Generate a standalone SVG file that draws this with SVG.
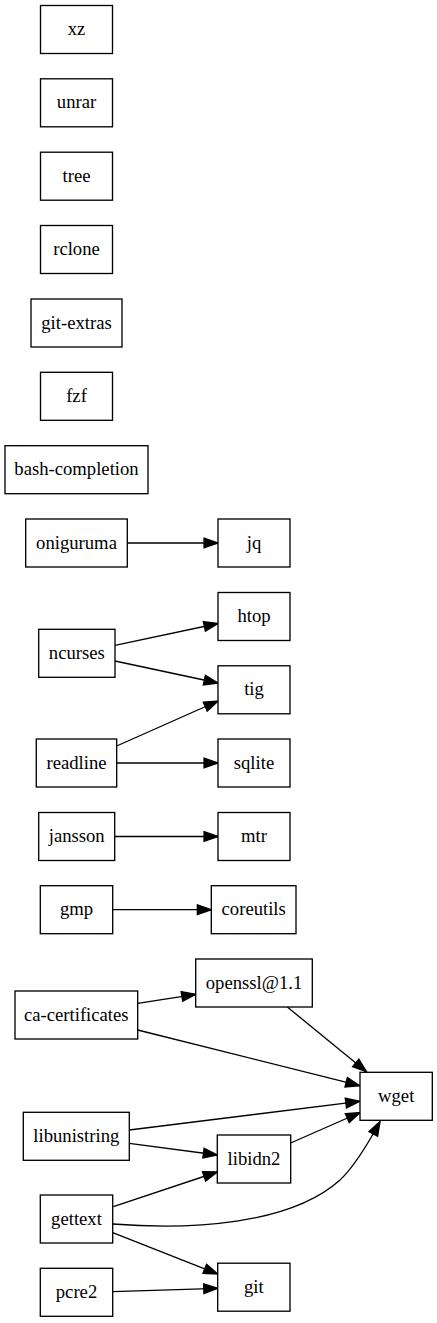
<svg xmlns="http://www.w3.org/2000/svg" width="437" height="1323" viewBox="0 0 437 1323">
<style>
.n rect{fill:#fff;stroke:#000;stroke-width:1.33}
.e path{fill:none;stroke:#000;stroke-width:1.33;marker-end:url(#a)}
</style>
<defs>
<marker id="a" markerUnits="userSpaceOnUse" markerWidth="16" markerHeight="12" viewBox="-1 -1 15.33 11.33" refX="13.33" refY="4.67" orient="auto" overflow="visible">
<polygon points="0,0 13.33,4.67 0,9.33" fill="#000" stroke="#000" stroke-width="1.33"/>
</marker>
</defs>
<rect width="437" height="1323" fill="#fff"/>
<g id="edges" class="e">
<path d="M127.3,543 L218,543"/>
<path d="M115,645.3 L218,623.5"/>
<path d="M115,661 L218,683"/>
<path d="M116.7,746 L218,701"/>
<path d="M116.7,763 L218,763"/>
<path d="M114.7,836.5 L218,836.5"/>
<path d="M112.7,909.7 L211.3,909.7"/>
<path d="M137.7,1003.3 L195.7,994.3"/>
<path d="M137.7,1030 L359.7,1085.7"/>
<path d="M287.3,1007 L366.5,1071.7"/>
<path d="M129.3,1130 L359.7,1101.3"/>
<path d="M129.3,1143.3 L217.3,1155"/>
<path d="M290.7,1143 L360,1112.5"/>
<path d="M113.3,1206.7 L217.3,1172"/>
<path d="M112.7,1224 C190,1230 290,1225 340,1180 C356,1165 370,1140 380,1121.7"/>
<path d="M112.7,1232.7 L217.7,1274"/>
<path d="M112.7,1291.7 L217.7,1288.3"/>
</g>
<g id="xz" class="n"><rect x="40.5" y="5.5" width="72" height="48"/><text x="76.5" y="35.1" font-family="Liberation Serif" font-size="18.67" text-anchor="middle">xz</text></g>
<g id="unrar" class="n"><rect x="40.5" y="78.8" width="72" height="48"/><text x="76.5" y="108.4" font-family="Liberation Serif" font-size="18.67" text-anchor="middle">unrar</text></g>
<g id="tree" class="n"><rect x="40.5" y="152.2" width="72" height="48"/><text x="76.5" y="181.8" font-family="Liberation Serif" font-size="18.67" text-anchor="middle">tree</text></g>
<g id="rclone" class="n"><rect x="40.5" y="225.5" width="72" height="48"/><text x="76.5" y="255.1" font-family="Liberation Serif" font-size="18.67" text-anchor="middle">rclone</text></g>
<g id="git-extras" class="n"><rect x="31" y="299" width="91" height="48"/><text x="76.5" y="328.6" font-family="Liberation Serif" font-size="18.67" text-anchor="middle">git-extras</text></g>
<g id="fzf" class="n"><rect x="40.5" y="372.3" width="72" height="48"/><text x="76.5" y="401.9" font-family="Liberation Serif" font-size="18.67" text-anchor="middle">fzf</text></g>
<g id="bash-completion" class="n"><rect x="5" y="445.7" width="143" height="48"/><text x="76.5" y="475.3" font-family="Liberation Serif" font-size="18.67" text-anchor="middle">bash-completion</text></g>
<g id="oniguruma" class="n"><rect x="25.7" y="519" width="101.6" height="48"/><text x="76.5" y="548.6" font-family="Liberation Serif" font-size="18.67" text-anchor="middle">oniguruma</text></g>
<g id="jq" class="n"><rect x="218" y="519" width="72" height="48"/><text x="254" y="548.6" font-family="Liberation Serif" font-size="18.67" text-anchor="middle">jq</text></g>
<g id="htop" class="n"><rect x="218" y="592.5" width="72" height="48"/><text x="254" y="622.1" font-family="Liberation Serif" font-size="18.67" text-anchor="middle">htop</text></g>
<g id="ncurses" class="n"><rect x="38.7" y="629.3" width="76.3" height="48"/><text x="76.8" y="658.9" font-family="Liberation Serif" font-size="18.67" text-anchor="middle">ncurses</text></g>
<g id="tig" class="n"><rect x="218" y="665.8" width="72" height="48"/><text x="254" y="695.4" font-family="Liberation Serif" font-size="18.67" text-anchor="middle">tig</text></g>
<g id="readline" class="n"><rect x="36.3" y="739" width="80.4" height="48"/><text x="76.5" y="768.6" font-family="Liberation Serif" font-size="18.67" text-anchor="middle">readline</text></g>
<g id="sqlite" class="n"><rect x="218" y="739" width="72" height="48"/><text x="254" y="768.6" font-family="Liberation Serif" font-size="18.67" text-anchor="middle">sqlite</text></g>
<g id="jansson" class="n"><rect x="38.7" y="812.5" width="76" height="48"/><text x="76.7" y="842.1" font-family="Liberation Serif" font-size="18.67" text-anchor="middle">jansson</text></g>
<g id="mtr" class="n"><rect x="218" y="812.5" width="72" height="48"/><text x="254" y="842.1" font-family="Liberation Serif" font-size="18.67" text-anchor="middle">mtr</text></g>
<g id="gmp" class="n"><rect x="40.3" y="885.7" width="72.4" height="48"/><text x="76.5" y="915.3" font-family="Liberation Serif" font-size="18.67" text-anchor="middle">gmp</text></g>
<g id="coreutils" class="n"><rect x="211.3" y="885.7" width="84.7" height="48"/><text x="253.7" y="915.3" font-family="Liberation Serif" font-size="18.67" text-anchor="middle">coreutils</text></g>
<g id="openssl" class="n"><rect x="195.7" y="959" width="116.6" height="48"/><text x="254" y="988.6" font-family="Liberation Serif" font-size="18.67" text-anchor="middle">openssl@1.1</text></g>
<g id="ca-certificates" class="n"><rect x="15" y="991" width="122.7" height="48"/><text x="76.3" y="1020.6" font-family="Liberation Serif" font-size="18.67" text-anchor="middle">ca-certificates</text></g>
<g id="wget" class="n"><rect x="360" y="1072.3" width="72.3" height="48"/><text x="396.2" y="1101.9" font-family="Liberation Serif" font-size="18.67" text-anchor="middle">wget</text></g>
<g id="libunistring" class="n"><rect x="23.3" y="1112.3" width="106" height="48"/><text x="76.3" y="1141.9" font-family="Liberation Serif" font-size="18.67" text-anchor="middle">libunistring</text></g>
<g id="libidn2" class="n"><rect x="217.3" y="1135" width="73.4" height="48"/><text x="254" y="1164.6" font-family="Liberation Serif" font-size="18.67" text-anchor="middle">libidn2</text></g>
<g id="gettext" class="n"><rect x="40.3" y="1195" width="72.4" height="48"/><text x="76.5" y="1224.6" font-family="Liberation Serif" font-size="18.67" text-anchor="middle">gettext</text></g>
<g id="git" class="n"><rect x="217.7" y="1263.2" width="72.3" height="48"/><text x="253.8" y="1292.8" font-family="Liberation Serif" font-size="18.67" text-anchor="middle">git</text></g>
<g id="pcre2" class="n"><rect x="40.3" y="1268.3" width="72.4" height="48"/><text x="76.5" y="1297.9" font-family="Liberation Serif" font-size="18.67" text-anchor="middle">pcre2</text></g>
</svg>
